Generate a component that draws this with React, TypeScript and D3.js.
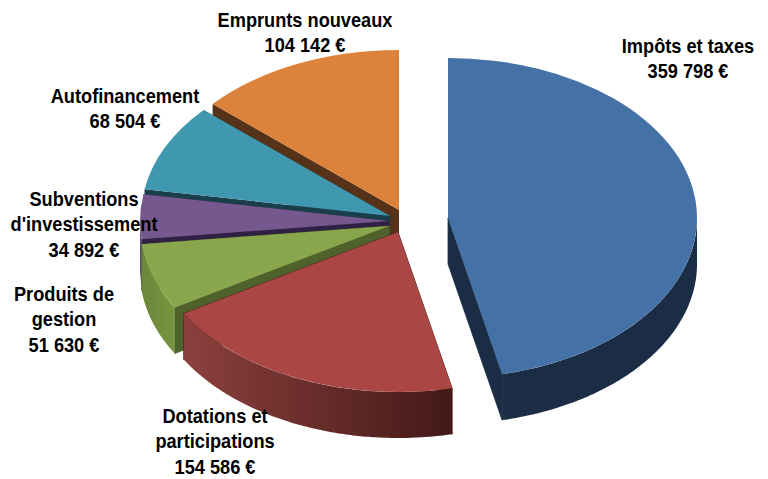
import React from "react";
import * as d3 from "d3";

const W = 768;
const H = 479;

// Pie data, clockwise from 12 o'clock
const categories = [
  ["Impôts et taxes"],
  ["Dotations et", "participations"],
  ["Produits de", "gestion"],
  ["Subventions", "d'investissement"],
  ["Autofinancement"],
  ["Emprunts nouveaux"],
];
const values = [359798, 154586, 51630, 34892, 68504, 104142];

const topColors = ["#4471a6", "#aa4643", "#8aa64d", "#74588e", "#3f98b0", "#dd823b"];
const wallColors = ["#1b2d45", "#441a18", "#4f622c", "#2f2044", "#1a3e4a", "#553218"];
const sideFrom = ["#1b2d45", "#8c403d", "#6a873b", "#5d4673", "#1a3e4a", "#553218"];
const sideTo = ["#1b2d45", "#431917", "#76953f", "#5d4673", "#1a3e4a", "#553218"];

// Layout: centre of the pie and how far each slice is pulled out of it
const cx = 393;
const cy = 218;
const rx = 249;
const ry = 160;
const depth = 46;
const offsets = [[55, 0], [5, 14], [-4, 8], [-4, 3], [-3, -2], [6, -8]];
const labelAnchors = [[688, 53], [215, 423], [64, 301], [84, 206], [125, 103], [305, 27]];
const lineHeight = 25.5;
// No narrow bold face installed, so the regular bold is squeezed to the same width
const textSqueeze = 0.91;

const euro = d3.formatLocale({
  decimal: ",",
  thousands: " ",
  grouping: [3],
  currency: ["", " €"],
}).format("$,d");

const pie = d3.pie<number>().sort(null).value((d) => d);
const slices = pie(values);

// Back to front, so the nearer slices cover the walls of the farther ones
const drawOrder = [5, 4, 3, 2, 1, 0];

const arc = d3.arc<d3.PieArcDatum<number>>().innerRadius(0).outerRadius(rx);

function rimPoint(a: number): [number, number] {
  return [rx * Math.sin(a), -ry * Math.cos(a)];
}

function wallPath(a: number) {
  const [x, y] = rimPoint(a);
  return `M0,0L${x},${y}L${x},${y + depth}L0,${depth}Z`;
}

// A wall that meets the front band gets a hairline stroke to hide the seam
function wallStroke(a: number) {
  return Math.cos(a) < 0 ? 0.8 : 0;
}

// Outer band, only on the part of the rim that faces the viewer
function sidePath(start: number, end: number) {
  const a0 = Math.max(start, Math.PI / 2);
  const a1 = Math.min(end, (3 * Math.PI) / 2);
  if (a1 <= a0) return null;
  const angles = d3.range(a0, a1, 0.01).concat(a1);
  return d3
    .area<number>()
    .x((a) => rimPoint(a)[0])
    .y0((a) => rimPoint(a)[1])
    .y1((a) => rimPoint(a)[1] + depth)(angles);
}

export default function App() {
  return (
    <svg
      width={W}
      height={H}
      viewBox={`0 0 ${W} ${H}`}
      style={{ position: "absolute", left: 0, top: 0, background: "#fff" }}
    >
      <defs>
        {slices.map((s, i) => {
          const a0 = Math.max(s.startAngle, Math.PI / 2);
          const a1 = Math.min(s.endAngle, (3 * Math.PI) / 2);
          const xs = [rimPoint(a0)[0], rimPoint(a1)[0]];
          return (
            <linearGradient
              key={i}
              id={`side-${i}`}
              gradientUnits="userSpaceOnUse"
              x1={d3.min(xs)}
              x2={d3.max(xs)}
              y1={0}
              y2={0}
            >
              <stop offset="0" stopColor={sideFrom[i]} />
              <stop offset="1" stopColor={sideTo[i]} />
            </linearGradient>
          );
        })}
      </defs>

      {drawOrder.map((i) => {
        const s = slices[i];
        const side = sidePath(s.startAngle, s.endAngle);
        return (
          <g
            key={i}
            transform={`translate(${cx + offsets[i][0]},${cy + offsets[i][1]})`}
            strokeLinejoin="round"
          >
            {[s.startAngle, s.endAngle].map((a) => (
              <path
                key={a}
                d={wallPath(a)}
                fill={wallColors[i]}
                stroke={wallColors[i]}
                strokeWidth={wallStroke(a)}
              />
            ))}
            {side && <path d={side} fill={`url(#side-${i})`} />}
            <path d={arc(s)!} transform={`scale(1,${ry / rx})`} fill={topColors[i]} />
          </g>
        );
      })}

      <g
        fontFamily="'Liberation Sans', Arial, sans-serif"
        fontWeight="bold"
        fontSize={20}
        fill="#000"
        textAnchor="middle"
      >
        {categories.map((lines, i) => (
          <text
            key={i}
            transform={`translate(${labelAnchors[i][0]},${labelAnchors[i][1]}) scale(${textSqueeze},1)`}
          >
            {[...lines, euro(values[i])].map((t, j) => (
              <tspan key={j} x={0} dy={j === 0 ? 0 : lineHeight}>
                {t}
              </tspan>
            ))}
          </text>
        ))}
      </g>
    </svg>
  );
}
